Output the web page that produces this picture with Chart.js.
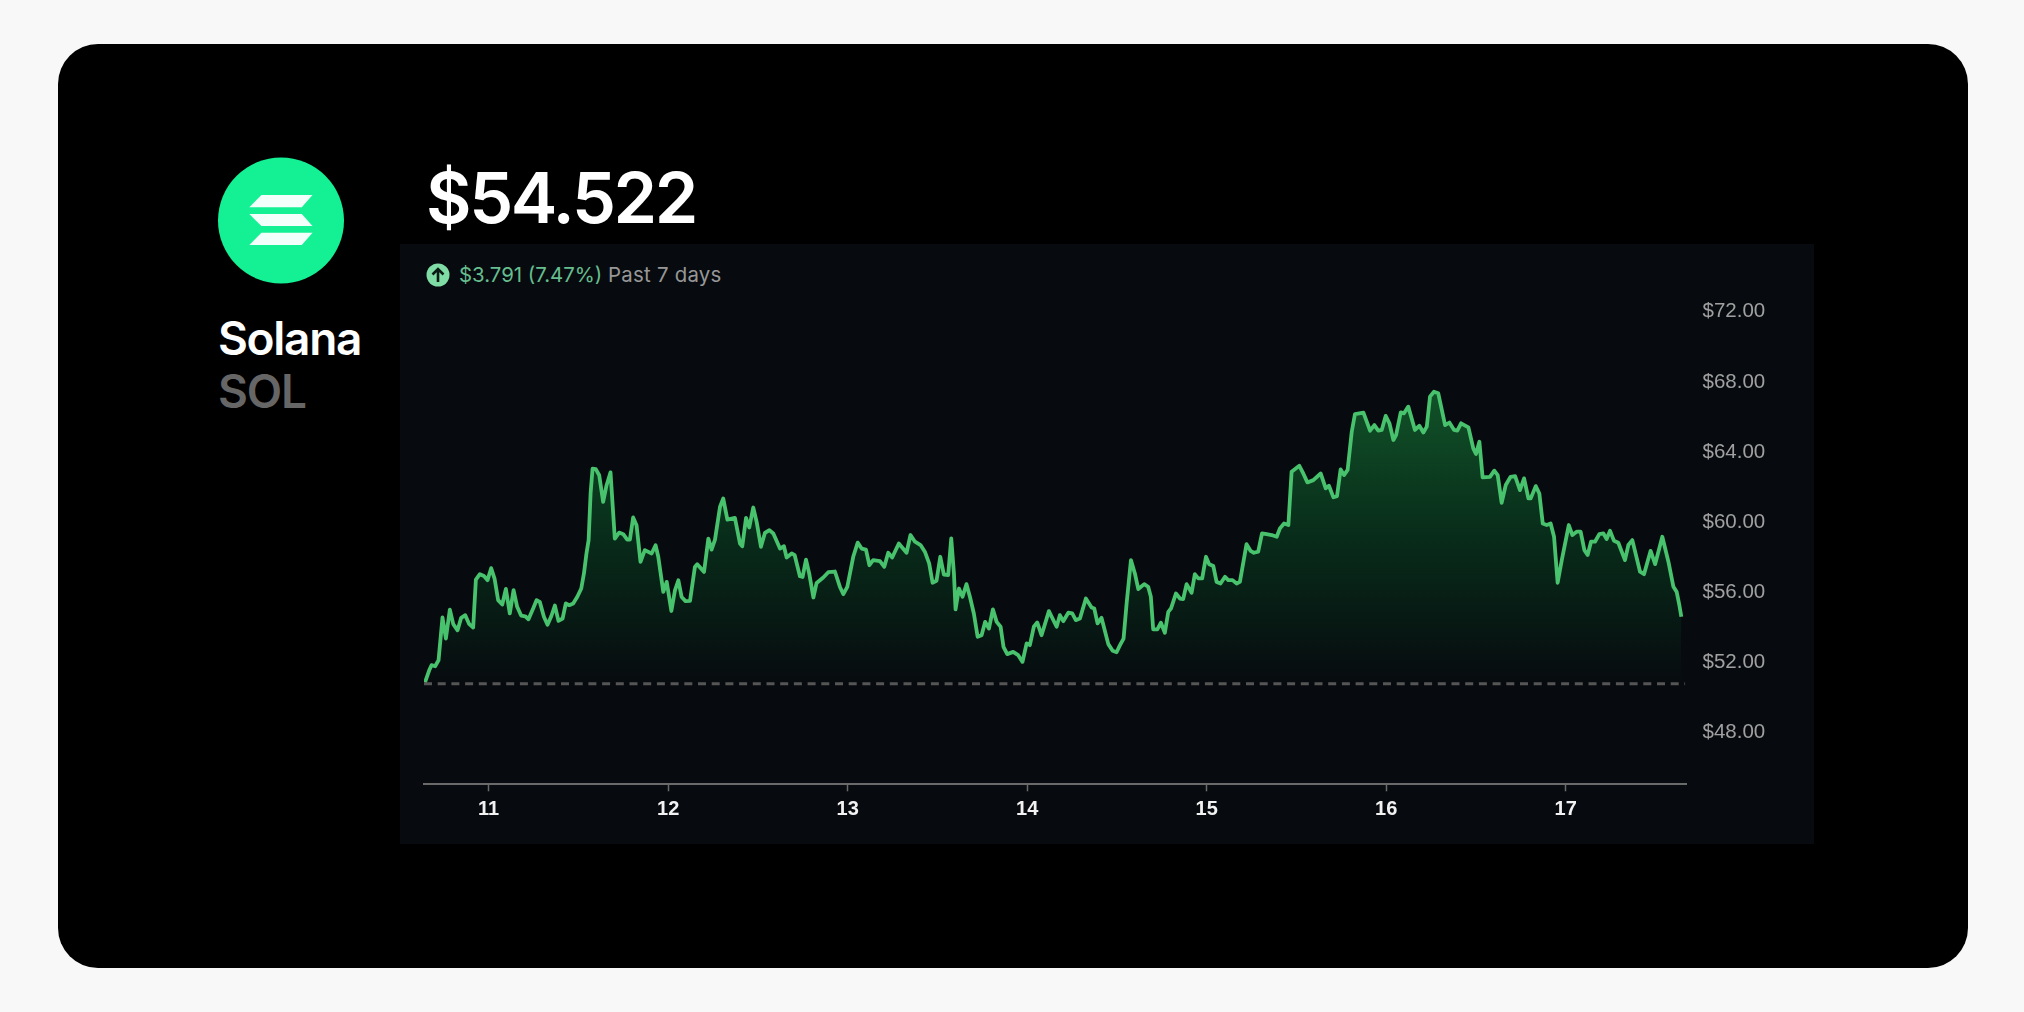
<!DOCTYPE html>
<html>
<head>
<meta charset="utf-8">
<script src="https://cdn.jsdelivr.net/npm/chart.js@4"></script>
<style>
html,body{margin:0;padding:0;width:2024px;height:1012px;background:#f8f8f8;overflow:hidden}
#card{position:absolute;left:58px;top:44px;width:1910px;height:924px;background:#000;border-radius:40px}
#panel{position:absolute;left:400px;top:244px;width:1414px;height:600px;background:#070b0f}
canvas{position:absolute;left:400px;top:244px}
.t{position:absolute;white-space:nowrap;font-family:Inter,sans-serif;line-height:1}
#price{left:426px;top:163px;font-size:70px;font-weight:600;color:#fff;letter-spacing:-2.4px}
#name{left:218px;top:315px;font-size:46px;font-weight:600;color:#fff;letter-spacing:-1.3px}
#sym{left:218px;top:368px;font-size:46px;font-weight:600;color:#666;letter-spacing:-1.1px}
#chg{left:459px;top:265px;font-size:20.4px;color:#66bd8e}
#past{left:608px;top:265px;font-size:20.4px;color:#979797;letter-spacing:.25px}
svg{position:absolute;left:0;top:0}
</style>
</head>
<body>
<div id="card"></div>
<div id="panel"></div>
<svg width="2024" height="1012">
<circle cx="281" cy="220.5" r="63" fill="#14f195"/>
<polygon points="261.4,195 312.5,195 301.8,207.3 249.3,207.3" fill="#fff" fill-opacity="0.95"/>
<polygon points="249.3,214 301.8,214 312.5,226 261.4,226" fill="#fff" fill-opacity="0.95"/>
<polygon points="261.4,232.7 312.5,232.7 301.8,245 249.3,245" fill="#fff" fill-opacity="0.95"/>
<circle cx="438" cy="275" r="11.5" fill="#7fdca4"/>
<path d="M438 282V269.5M432.5 274.5L438 269L443.5 274.5" fill="none" stroke="#0a1a14" stroke-width="2.6"/>
</svg>
<div class="t" id="price">$54.522</div>
<div class="t" id="name">Solana</div>
<div class="t" id="sym">SOL</div>
<div class="t" id="chg">$3.791 (7.47%)</div>
<div class="t" id="past">Past 7 days</div>
<canvas id="c" width="1414" height="600"></canvas>
<script>
const days=[10.645,10.669,10.682,10.702,10.721,10.743,10.762,10.784,10.803,10.827,10.847,10.870,10.892,10.914,10.929,10.951,10.974,10.994,11.014,11.033,11.053,11.076,11.096,11.118,11.139,11.159,11.181,11.204,11.222,11.248,11.267,11.285,11.308,11.328,11.349,11.369,11.389,11.412,11.430,11.449,11.471,11.494,11.516,11.531,11.545,11.557,11.568,11.579,11.597,11.616,11.638,11.657,11.679,11.703,11.727,11.750,11.772,11.787,11.805,11.824,11.846,11.870,11.908,11.930,11.945,11.973,11.992,12.018,12.038,12.057,12.075,12.097,12.122,12.149,12.162,12.200,12.224,12.242,12.261,12.289,12.307,12.330,12.372,12.400,12.413,12.434,12.452,12.474,12.493,12.517,12.539,12.564,12.586,12.623,12.645,12.660,12.688,12.705,12.734,12.749,12.768,12.786,12.809,12.827,12.864,12.892,12.929,12.957,12.976,12.998,13.031,13.056,13.078,13.102,13.121,13.142,13.180,13.204,13.226,13.248,13.285,13.328,13.350,13.375,13.406,13.430,13.454,13.473,13.495,13.516,13.536,13.560,13.577,13.592,13.601,13.620,13.640,13.662,13.681,13.703,13.724,13.746,13.766,13.787,13.809,13.830,13.852,13.868,13.889,13.922,13.950,13.974,13.997,14.015,14.037,14.056,14.080,14.121,14.164,14.182,14.201,14.229,14.251,14.271,14.294,14.327,14.359,14.374,14.392,14.414,14.452,14.476,14.498,14.517,14.537,14.554,14.578,14.600,14.619,14.652,14.674,14.689,14.702,14.725,14.745,14.767,14.786,14.801,14.829,14.851,14.869,14.888,14.916,14.934,14.953,14.975,14.996,15.014,15.037,15.055,15.077,15.102,15.120,15.144,15.167,15.185,15.222,15.244,15.263,15.287,15.308,15.334,15.362,15.390,15.408,15.431,15.455,15.473,15.516,15.538,15.561,15.594,15.635,15.663,15.681,15.706,15.726,15.746,15.765,15.785,15.808,15.826,15.873,15.910,15.934,15.956,15.975,15.997,16.018,16.040,16.055,16.081,16.099,16.123,16.160,16.185,16.207,16.226,16.244,16.266,16.290,16.328,16.352,16.378,16.396,16.417,16.458,16.485,16.500,16.519,16.537,16.578,16.602,16.621,16.643,16.666,16.693,16.718,16.745,16.768,16.792,16.805,16.833,16.853,16.872,16.894,16.916,16.935,16.955,16.978,17.017,17.037,17.061,17.083,17.104,17.122,17.141,17.163,17.187,17.210,17.228,17.247,17.269,17.293,17.330,17.349,17.371,17.414,17.436,17.473,17.498,17.538,17.572,17.600,17.618,17.633,17.644];
const prices=[50.80,51.50,51.79,51.73,52.07,54.51,53.31,54.96,54.13,53.78,54.49,54.64,54.13,53.94,56.67,56.98,56.87,56.64,57.32,56.73,55.50,55.25,56.14,54.74,56.07,55.12,54.62,54.58,54.41,55.02,55.50,55.40,54.55,54.09,54.58,55.19,54.32,54.45,55.31,55.21,55.31,55.69,56.16,57.02,58.16,58.92,61.58,63.00,62.97,62.62,61.10,62.05,62.78,59.00,59.35,59.26,58.95,58.95,60.21,59.77,57.68,58.35,58.16,58.63,57.97,55.97,56.54,54.88,56.06,56.63,55.68,55.44,55.46,57.39,57.55,57.11,59.01,58.38,58.95,60.82,61.29,60.09,60.19,58.73,58.57,60.19,59.64,60.78,59.96,58.54,59.33,59.49,59.30,58.44,58.57,57.93,58.16,58.06,56.86,56.82,57.81,57.01,55.65,56.48,56.79,57.09,57.13,56.25,55.84,56.25,57.97,58.78,58.44,58.38,57.49,57.78,57.72,57.40,58.20,57.93,58.73,58.20,59.21,58.83,58.64,58.26,57.59,56.49,56.60,57.97,56.96,56.93,59.02,57.02,54.97,56.16,55.69,56.41,55.69,54.74,53.41,53.50,54.26,53.88,54.97,54.26,53.98,52.84,52.42,52.55,52.36,51.98,53.03,52.93,53.98,54.23,53.50,54.87,53.98,54.64,54.30,54.78,54.74,54.36,54.45,55.59,55.08,55.02,54.17,54.49,52.99,52.61,52.53,52.93,53.31,55.31,57.78,57.02,56.13,56.41,56.26,55.69,53.83,53.83,54.21,53.64,54.83,55.02,55.88,55.59,55.56,56.41,55.92,56.98,56.74,56.74,57.97,57.55,57.44,56.54,56.45,56.83,56.64,56.64,56.45,56.54,58.69,58.31,58.20,58.26,59.30,59.26,59.21,59.11,59.59,59.87,59.78,62.82,63.16,62.72,62.21,62.34,62.72,61.87,62.02,61.36,61.43,62.95,62.63,62.92,65.10,66.11,66.19,65.16,65.48,65.16,65.20,66.00,65.58,64.63,64.91,66.20,66.15,66.53,65.20,65.44,65.06,65.39,67.10,67.38,67.29,65.48,65.62,65.20,65.16,65.58,65.35,64.15,63.83,64.53,62.50,62.53,62.88,62.63,61.05,62.06,62.53,62.57,61.77,62.44,61.30,61.30,62.00,61.58,59.87,59.78,59.87,59.11,56.49,57.78,59.78,59.21,59.40,59.40,58.35,58.07,58.83,58.83,59.26,59.30,58.98,59.45,58.88,58.77,57.78,58.64,58.92,57.12,56.98,58.31,57.55,59.11,57.69,56.26,55.97,55.21,54.55];
const baseline=50.731;
const dayTicks=[11,12,13,14,15,16,17];
const priceTicks=[48,52,56,60,64,68,72];
const xRange=[10.640,17.670];
const yRange=[45,74];

const pts=days.map((d,i)=>({x:d,y:prices[i]}));
function fillGradient(ctx){
  const ch=ctx.chart, s=ch.scales.y;
  if(!ch.chartArea||!s) return 'transparent';
  const g=ch.ctx.createLinearGradient(0,s.getPixelForValue(67.4),0,s.getPixelForValue(baseline));
  g.addColorStop(0,'rgba(17,82,40,1)');
  g.addColorStop(0.5,'rgba(8,44,26,1)');
  g.addColorStop(1,'rgba(7,11,15,1)');
  return g;
}
new Chart(document.getElementById('c'),{
  type:'line',
  data:{datasets:[
    {data:pts,borderColor:'#48c26d',borderWidth:3.8,pointRadius:0,tension:0,fill:{value:baseline},backgroundColor:fillGradient,borderJoinStyle:'round',order:2},
    {data:[{x:xRange[0],y:baseline},{x:xRange[1]-0.005,y:baseline}],borderColor:'#555555',borderWidth:2.8,borderDash:[8,5.7],pointRadius:0,fill:false,order:1}
  ]},
  options:{
    responsive:false,animation:false,devicePixelRatio:1,
    layout:{padding:{left:24,top:31.6,right:0,bottom:0}},
    plugins:{legend:{display:false},tooltip:{enabled:false}},
    scales:{
      x:{type:'linear',min:xRange[0],max:xRange[1],
        afterBuildTicks:s=>{s.ticks=dayTicks.map(v=>({value:v}))},
        afterFit:s=>{s.height=59.7},
        grid:{drawOnChartArea:false,drawTicks:true,tickLength:7,tickColor:'#6a6a6a',tickWidth:1.5},
        border:{color:'#6a6a6a',width:2},
        ticks:{color:'#f2f2f2',font:{family:'Liberation Sans',size:20,weight:'bold'},padding:6.5,maxRotation:0,autoSkip:false,callback:v=>String(v)}
      },
      y:{type:'linear',position:'right',min:yRange[0],max:yRange[1],
        afterBuildTicks:s=>{s.ticks=priceTicks.map(v=>({value:v}))},
        afterFit:s=>{s.width=128},
        grid:{display:false},border:{display:false},
        ticks:{color:'#a0a0a0',font:{family:'Liberation Sans',size:20.5},padding:8.5,labelOffset:1,autoSkip:false,callback:v=>'$'+v.toFixed(2)}
      }
    }
  }
});
</script>
</body>
</html>
